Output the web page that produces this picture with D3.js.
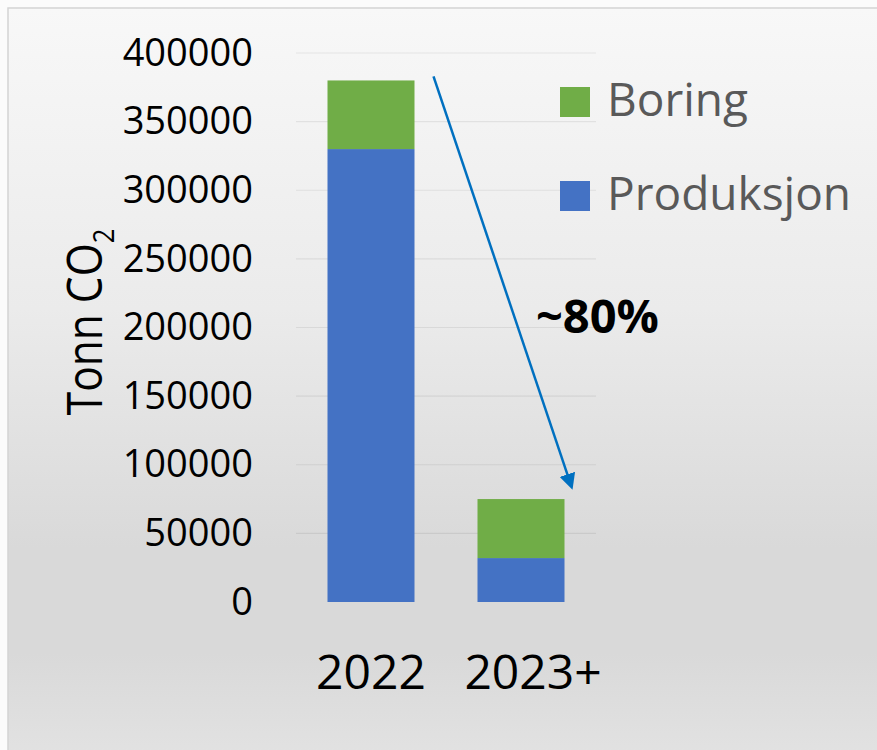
<!DOCTYPE html>
<html lang="no">
<head>
    <meta charset="UTF-8">
    <title>Tonn CO2 - Boring og Produksjon</title>
    <script src="https://d3js.org/d3.v7.min.js"></script>
    <style>
        body {
            margin: 0;
            padding: 0;
            background-color: #fbfbfb;
            overflow: hidden;
        }
        svg text {
            font-family: "Open Sans", "Noto Sans", sans-serif;
        }
    </style>
</head>
<body>
    <div id="chart"></div>

    <script>
        // Chart data
        const categories = ["2022", "2023+"];
        const produksjon = [330000, 32000];
        const boring = [50000, 43000];
        const seriesNames = ["Boring", "Produksjon"];
        const seriesColors = ["#70AD47", "#4472C4"];
        const yTicks = [0, 50000, 100000, 150000, 200000, 250000, 300000, 350000, 400000];
        const arrowFrom = { category: "2022", value: 383000 };
        const arrowTo = { category: "2023+", value: 84000 };
        const arrowLabel = "~80%";

        const W = 877, H = 750;

        const svg = d3.select("#chart").append("svg")
            .attr("width", W)
            .attr("height", H);

        // Background panel with soft grey gradient
        const defs = svg.append("defs");
        const grad = defs.append("linearGradient")
            .attr("id", "panelGrad")
            .attr("x1", 0).attr("y1", 0).attr("x2", 0).attr("y2", 1);
        grad.append("stop").attr("offset", "0%").attr("stop-color", "#f8f8f8");
        grad.append("stop").attr("offset", "40%").attr("stop-color", "#ebebeb");
        grad.append("stop").attr("offset", "72%").attr("stop-color", "#d9d9d9");
        grad.append("stop").attr("offset", "86%").attr("stop-color", "#d9d9d9");
        grad.append("stop").attr("offset", "100%").attr("stop-color", "#e2e2e2");

        svg.append("rect")
            .attr("x", 8).attr("y", 8)
            .attr("width", W).attr("height", H)
            .attr("fill", "url(#panelGrad)")
            .attr("stroke", "#d4d4d4")
            .attr("stroke-width", 1.5);

        // Scales
        const x = d3.scaleBand()
            .domain(categories)
            .range([296, 596])
            .paddingInner(0.42)
            .paddingOuter(0.21);

        const y = d3.scaleLinear()
            .domain([0, 400000])
            .range([602, 53]);

        // Gridlines
        svg.append("g").selectAll("line")
            .data(yTicks.filter(d => d > 0))
            .join("line")
            .attr("x1", 296).attr("x2", 596)
            .attr("y1", d => y(d)).attr("y2", d => y(d))
            .attr("stroke", "rgba(0,0,0,0.07)")
            .attr("stroke-width", 1.2);

        // Y axis
        const yAxis = svg.append("g")
            .attr("transform", "translate(296,0)")
            .call(d3.axisLeft(y).tickValues(yTicks).tickFormat(d3.format("d")).tickSize(0).tickPadding(43));
        yAxis.select(".domain").remove();
        yAxis.selectAll("text")
            .attr("font-size", 38)
            .attr("fill", "#000")
            .style("font-family", "\"Open Sans\", sans-serif");

        // Y axis title
        const title = svg.append("text")
            .attr("transform", "translate(102,322) rotate(-90) scale(0.85,1)")
            .attr("text-anchor", "middle")
            .attr("font-size", 50)
            .attr("fill", "#000");
        title.append("tspan").text("Tonn CO");
        title.append("tspan").attr("font-size", 30).attr("dy", 12).text("2");

        // Stacked bars
        const stacked = categories.map((c, i) => ({
            category: c,
            segments: [
                { name: "Produksjon", y0: 0, y1: produksjon[i], color: seriesColors[1] },
                { name: "Boring", y0: produksjon[i], y1: produksjon[i] + boring[i], color: seriesColors[0] }
            ]
        }));

        svg.append("g").selectAll("g")
            .data(stacked)
            .join("g")
            .selectAll("rect")
            .data(d => d.segments.map(s => ({ ...s, category: d.category })))
            .join("rect")
            .attr("x", d => x(d.category))
            .attr("width", x.bandwidth())
            .attr("y", d => y(d.y1))
            .attr("height", d => y(d.y0) - y(d.y1))
            .attr("fill", d => d.color);

        // Category labels (the "+" sits to the right of the centred year)
        svg.append("g").selectAll("text")
            .data(categories)
            .join("text")
            .attr("x", d => x(d) + x.bandwidth() / 2)
            .attr("dx", (d, i) => i === 1 ? 12 : 0)
            .attr("y", 689)
            .attr("text-anchor", "middle")
            .attr("font-size", 48)
            .attr("fill", "#000")
            .text(d => d);

        // Legend
        const legend = svg.append("g").selectAll("g")
            .data(seriesNames)
            .join("g")
            .attr("transform", (d, i) => `translate(560,${87 + i * 94})`);
        legend.append("rect")
            .attr("width", 30).attr("height", 30)
            .attr("fill", (d, i) => seriesColors[i]);
        legend.append("text")
            .attr("x", 47).attr("y", 29)
            .attr("font-size", 46)
            .attr("fill", "#595959")
            .text(d => d);

        // Arrow annotation
        defs.append("marker")
            .attr("id", "arrowHead")
            .attr("viewBox", "0 0 10 10")
            .attr("refX", 8).attr("refY", 5)
            .attr("markerWidth", 6.5).attr("markerHeight", 6.5)
            .attr("markerUnits", "strokeWidth")
            .attr("orient", "auto")
            .append("path")
            .attr("d", "M0,0 L10,5 L0,10 z")
            .attr("fill", "#0070C0");

        svg.append("line")
            .attr("x1", x(arrowFrom.category) + x.bandwidth() + 19)
            .attr("y1", y(arrowFrom.value))
            .attr("x2", x(arrowTo.category) + x.bandwidth() + 7)
            .attr("y2", y(arrowTo.value))
            .attr("stroke", "#0070C0")
            .attr("stroke-width", 2.5)
            .attr("marker-end", "url(#arrowHead)");

        svg.append("text")
            .attr("x", 536).attr("y", 333)
            .attr("font-size", 47)
            .attr("font-weight", "bold")
            .attr("fill", "#000")
            .text(arrowLabel);
    </script>
</body>
</html>
